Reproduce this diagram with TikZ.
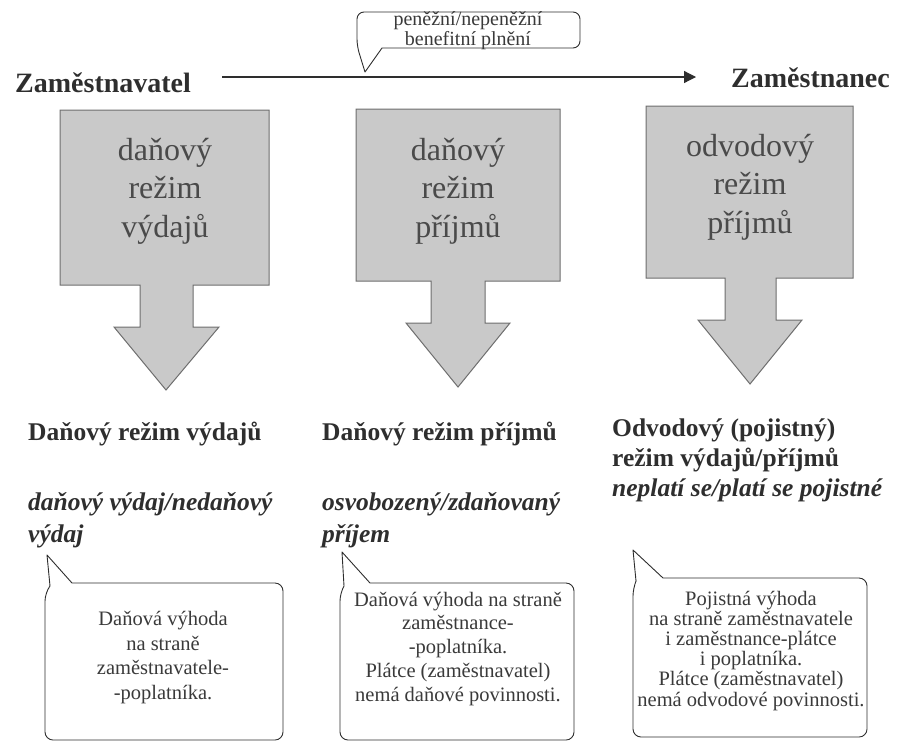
\documentclass[tikz,border=0pt]{standalone}
\usepackage{fontspec}
\setmainfont{Liberation Serif}
\usetikzlibrary{arrows.meta}

\definecolor{boxfill}{HTML}{C9C9C9}
\definecolor{boxline}{HTML}{6E6E6E}
\definecolor{ink}{HTML}{2E2E2E}
\definecolor{boxink}{HTML}{4A4A4A}
\definecolor{noteink}{HTML}{3A3A3A}

\begin{document}
\begin{tikzpicture}[x=1pt,y=-1pt,
  party/.style={font=\fontsize{28}{32}\selectfont\bfseries, text=ink, inner sep=0pt, anchor=base west},
  regime/.style={draw=boxline, fill=boxfill, line width=1pt, line join=miter},
  regimetext/.style={font=\fontsize{32}{38.5}\selectfont, text=boxink, align=center, inner sep=0pt, anchor=base},
  label/.style={font=\fontsize{25.5}{30}\selectfont\bfseries, text=ink, inner sep=0pt, anchor=base west, align=left},
  kind/.style={font=\fontsize{25.5}{32}\selectfont\bfseries\itshape, text=ink, inner sep=0pt, anchor=base west, align=left},
  note/.style={draw=ink, line width=0.9pt, fill=white, line join=round},
  notetext/.style={text=noteink, align=center, inner sep=0pt, anchor=base},
  flow/.style={draw=ink, line width=1.2pt, -{Triangle[length=12pt,width=12pt]}}
]
\useasboundingbox (0,0) rectangle (899,742);
% multi-line nodes are placed by the baseline of their last line

% --- parties and the flow of the benefit -------------------------------
\node[party] (employer) at (15,92) {Zaměstnavatel};
\node[party] (employee) at (731,87) {Zaměstnanec};
\coordinate (flowstart) at (222,77);
\coordinate (flowend) at (696,77);
\draw[flow] (flowstart) -- (flowend);

% callout above the flow
\draw[note] (382,48) [rounded corners=7pt] -- (580,48) -- (580,12) -- (357,12) -- (357,46)
  [sharp corners] -- (365,72) -- cycle;
\node[notetext, font=\fontsize{20}{15.5}\selectfont] (benefit) at (468,45)
  {peněžní/nepeněžní\\benefitní plnění};

% --- three regime boxes with downward arrows ----------------------------
\draw[regime] (60,110) -- (269,110) -- (269,285) -- (193,285) -- (193,327) -- (219,327)
  -- (166,390) -- (114,327) -- (140,327) -- (140,285) -- (60,285) -- cycle;
\draw[regime] (356,109) -- (560,109) -- (560,281) -- (485,281) -- (485,323) -- (510,323)
  -- (458,387) -- (406,323) -- (431,323) -- (431,281) -- (356,281) -- cycle;
\draw[regime] (646,106) -- (853,106) -- (853,278) -- (776,278) -- (776,320) -- (802,320)
  -- (750,384) -- (698,320) -- (725,320) -- (725,278) -- (646,278) -- cycle;

\node[regimetext] (boxA) at (165,237) {daňový\\režim\\výdajů};
\node[regimetext] (boxB) at (458,237) {daňový\\režim\\příjmů};
\node[regimetext] (boxC) at (750,233) {odvodový\\režim\\příjmů};

% --- regime descriptions -------------------------------------------------
\node[label] (labA) at (28,440) {Daňový režim výdajů};
\node[kind]  (kindA) at (28,542) {daňový výdaj/nedaňový\\výdaj};
\node[label] (labB) at (322,440) {Daňový režim příjmů};
\node[kind]  (kindB) at (322,542) {osvobozený/zdaňovaný\\příjem};
\node[label] (labC) at (612,466) {Odvodový (pojistný)\\režim výdajů/příjmů};
\node[kind]  (kindC) at (612,496) {neplatí se/platí se pojistné};

% --- callouts with the resulting advantage -------------------------------
\draw[note] (72,583) [rounded corners=8pt] -- (283,583) -- (283,740) -- (45,740) -- (45,593)
  [sharp corners] -- (50,586) -- (47,555) -- cycle;
\draw[note] (370,583) [rounded corners=8pt] -- (574,583) -- (574,740) -- (340,740) -- (340,593)
  [sharp corners] -- (344,586) -- (342,552) -- cycle;
\draw[note] (663,578) [rounded corners=8pt] -- (867,578) -- (867,737) -- (633,737) -- (633,588)
  [sharp corners] -- (636,581) -- (633,550) -- cycle;

\node[notetext, font=\fontsize{20.5}{24.5}\selectfont] (advA) at (163,699)
  {Daňová výhoda\\na straně\\zaměstnavatele-\\-poplatníka.};
\node[notetext, font=\fontsize{20.5}{23.7}\selectfont] (advB) at (458,701)
  {Daňová výhoda na straně\\zaměstnance-\\-poplatníka.\\Plátce (zaměstnavatel)\\nemá daňové povinnosti.};
\node[notetext, font=\fontsize{20.5}{20.2}\selectfont] (advC) at (751,706)
  {Pojistná výhoda\\na straně zaměstnavatele\\i zaměstnance-plátce\\i poplatníka.\\Plátce (zaměstnavatel)\\nemá odvodové povinnosti.};
\end{tikzpicture}
\end{document}
